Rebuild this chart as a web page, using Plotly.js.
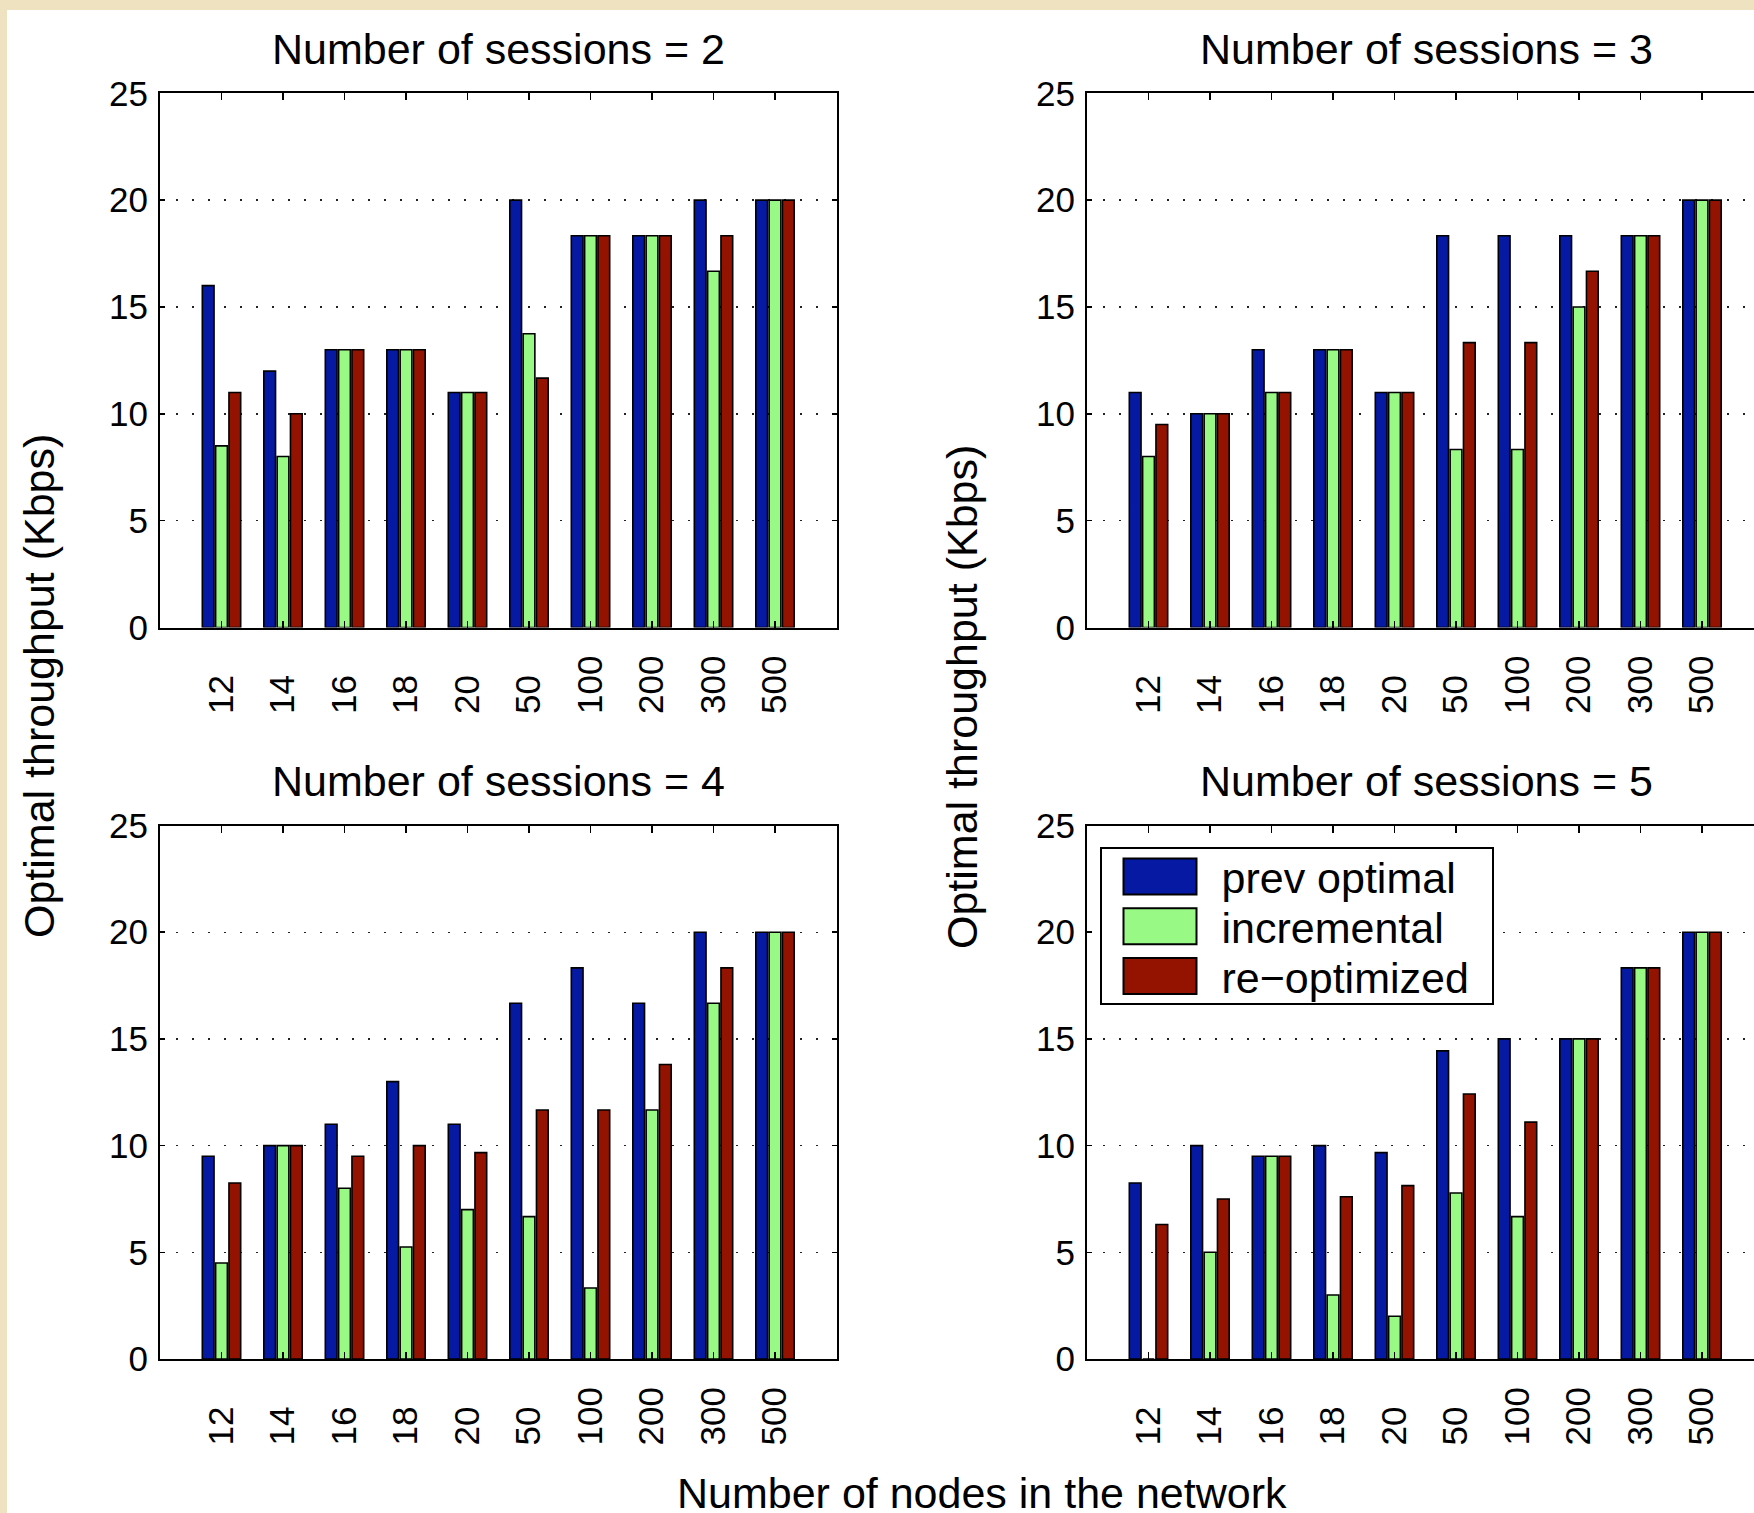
<!DOCTYPE html>
<html>
<head>
<meta charset="utf-8">
<script src="https://cdn.plot.ly/plotly-3.0.1.min.js"></script>
<style>
  html, body { margin: 0; padding: 0; width: 1754px; height: 1513px; overflow: hidden; background: #EEE2C0; }
  #chart { position: absolute; left: 7px; top: 10px; width: 1800px; height: 1503px; background: #ffffff; }
</style>
</head>
<body>
<div id="chart"></div>
<script>
// ---- data ----
const nodes = ['12', '14', '16', '18', '20', '50', '100', '200', '300', '500'];
const tickLabels = ['12\u00a0\u00a0', '14\u00a0\u00a0', '16\u00a0\u00a0', '18\u00a0\u00a0', '20\u00a0\u00a0', '50\u00a0\u00a0', '100', '200', '300', '500'];
const seriesNames = ['prev optimal', 'incremental', 're\u2212optimized'];
const sessionTitles = ['Number of sessions = 2', 'Number of sessions = 3', 'Number of sessions = 4', 'Number of sessions = 5'];

const prevOptimal2 = [16, 12, 13, 13, 11, 20, 18.33, 18.33, 20, 20];
const incremental2 = [8.5, 8, 13, 13, 11, 13.75, 18.33, 18.33, 16.67, 20];
const reoptimized2 = [11, 10, 13, 13, 11, 11.67, 18.33, 18.33, 18.33, 20];

const prevOptimal3 = [11, 10, 13, 13, 11, 18.33, 18.33, 18.33, 18.33, 20];
const incremental3 = [8, 10, 11, 13, 11, 8.33, 8.33, 15, 18.33, 20];
const reoptimized3 = [9.5, 10, 11, 13, 11, 13.33, 13.33, 16.67, 18.33, 20];

const prevOptimal4 = [9.5, 10, 11, 13, 11, 16.67, 18.33, 16.67, 20, 20];
const incremental4 = [4.5, 10, 8, 5.25, 7, 6.67, 3.33, 11.67, 16.67, 20];
const reoptimized4 = [8.25, 10, 9.5, 10, 9.67, 11.67, 11.67, 13.8, 18.33, 20];

const prevOptimal5 = [8.25, 10, 9.5, 10, 9.67, 14.44, 15, 15, 18.33, 20];
const incremental5 = [0, 5, 9.5, 3, 2, 7.78, 6.67, 15, 18.33, 20];
const reoptimized5 = [6.3, 7.5, 9.5, 7.6, 8.125, 12.42, 11.1, 15, 18.33, 20];

const panels = [
  [prevOptimal2, incremental2, reoptimized2],
  [prevOptimal3, incremental3, reoptimized3],
  [prevOptimal4, incremental4, reoptimized4],
  [prevOptimal5, incremental5, reoptimized5]
];

const colors = ['#0519A3', '#99F985', '#931300'];
const FONT = 'Liberation Sans, Arial, Helvetica, sans-serif';

// ---- traces ----
const traces = [];
panels.forEach((p, pi) => {
  const ax = pi === 0 ? '' : String(pi + 1);
  p.forEach((vals, si) => {
    traces.push({
      type: 'bar',
      x: nodes,
      y: vals,
      name: seriesNames[si],
      xaxis: 'x' + ax,
      yaxis: 'y' + ax,
      legendgroup: seriesNames[si],
      showlegend: pi === 3,
      marker: { color: colors[si], line: { color: '#000000', width: 1.6 } },
      hoverinfo: 'skip'
    });
  });
});

// ---- layout ----
const W = 1800, H = 1503;
const xDomL = [153 / W, 829.5 / W];
const xDomR = [1080 / W, 1756.5 / W];
const yDomT = [1 - 617.5 / H, 1 - 83.3 / H];
const yDomB = [1 - 1349 / H, 1 - 815.5 / H];

function xAxis(domain, anchor) {
  return {
    domain: domain, anchor: anchor, type: 'category',
    range: [-1, 10], tickmode: 'array', tickvals: nodes, ticktext: tickLabels,
    tickangle: -90, ticks: 'inside', ticklen: 7, tickwidth: 1.5, tickcolor: '#000',
    showline: true, linecolor: '#000', linewidth: 2, mirror: 'ticks',
    showgrid: false, zeroline: false, ticklabelstandoff: 12,
    tickfont: { family: FONT, size: 35, color: '#000' }, fixedrange: true
  };
}
function yAxis(domain, anchor) {
  return {
    domain: domain, anchor: anchor, range: [0, 25], tickmode: 'linear', tick0: 0, dtick: 5,
    ticks: 'inside', ticklen: 5, tickwidth: 1.5, tickcolor: '#000',
    showline: true, linecolor: '#000', linewidth: 2, mirror: 'ticks',
    showgrid: true, gridcolor: '#222', gridwidth: 1.4, griddash: '1.5px,14.5px',
    zeroline: false, ticklabelstandoff: 3,
    tickfont: { family: FONT, size: 35, color: '#000' }, fixedrange: true
  };
}

const ann = (text, x, y, angle) => ({
  text: text, x: x, y: y, xref: 'paper', yref: 'paper', showarrow: false,
  xanchor: 'center', yanchor: 'middle', textangle: angle || 0,
  font: { family: FONT, size: 43, color: '#000' }
});

const layout = {
  width: W, height: H,
  margin: { l: 0, r: 0, t: 0, b: 0 },
  paper_bgcolor: '#ffffff', plot_bgcolor: '#ffffff',
  barmode: 'group', bargap: 0.35, bargroupgap: 0.12,
  font: { family: FONT, color: '#000' },
  xaxis: xAxis(xDomL, 'y'), yaxis: yAxis(yDomT, 'x'),
  xaxis2: xAxis(xDomR, 'y2'), yaxis2: yAxis(yDomT, 'x2'),
  xaxis3: xAxis(xDomL, 'y3'), yaxis3: yAxis(yDomB, 'x3'),
  xaxis4: xAxis(xDomR, 'y4'), yaxis4: yAxis(yDomB, 'x4'),
  showlegend: true,
  legend: {
    x: 1092.5 / W, y: 1 - 837 / H, xanchor: 'left', yanchor: 'top',
    bgcolor: '#ffffff', bordercolor: '#000', borderwidth: 2,
    font: { family: FONT, size: 43, color: '#000' },
    itemwidth: 110, traceorder: 'normal', tracegroupgap: 0
  },
  annotations: [
    ann(sessionTitles[0], 491 / W, 1 - 39 / H),
    ann(sessionTitles[1], 1419 / W, 1 - 39 / H),
    ann(sessionTitles[2], 491 / W, 1 - 771 / H),
    ann(sessionTitles[3], 1419 / W, 1 - 771 / H),
    ann('Optimal throughput (Kbps)', 32 / W, 1 - 676 / H, -90),
    ann('Optimal throughput (Kbps)', 955 / W, 1 - 687 / H, -90),
    ann('Number of nodes in the network', 975 / W, 1 - 1483 / H)
  ]
};

Plotly.newPlot('chart', traces, layout, { displayModeBar: false, staticPlot: true }).then(gd => {
  const legend = gd.querySelector('.legend');
  if (!legend) return;
  // legend box size as in the reference
  const bg = legend.querySelector('rect.bg');
  if (bg) { bg.setAttribute('width', 392); bg.setAttribute('height', 156); }
  const items = Array.from(legend.querySelectorAll('.traces'));
  let f0 = null;
  items.forEach((item, i) => {
    const m = item.transform.baseVal.consolidate();
    const e = m ? m.matrix.e : 0, f = m ? m.matrix.f : 0;
    if (f0 === null) f0 = f - 7;
    item.setAttribute('transform', 'translate(' + e + ',' + (f0 + i * 49.8) + ')');
  });
  // enlarge legend swatches to match the wide rectangles of the reference
  items.forEach(item => {
    const path = item.querySelector('.legendpoints path');
    const txt = item.querySelector('.legendtext');
    if (!path || !txt) return;
    path.setAttribute('d', 'M36.5,18H-36.5V-18H36.5Z');
    path.style.strokeWidth = '2px';
    const tr = txt.getBoundingClientRect();
    const pr = path.getBoundingClientRect();
    const shift = (tr.left - 25 - 36.5) - (pr.left + pr.width / 2);
    const prev = path.getAttribute('transform') || '';
    path.setAttribute('transform', 'translate(' + shift + ',0) ' + prev);
  });
  // let the legend clip region follow the resized box
  legend.querySelectorAll('clipPath rect').forEach(r => { r.setAttribute('width', 392); r.setAttribute('height', 156); });
});
</script>
</body>
</html>
